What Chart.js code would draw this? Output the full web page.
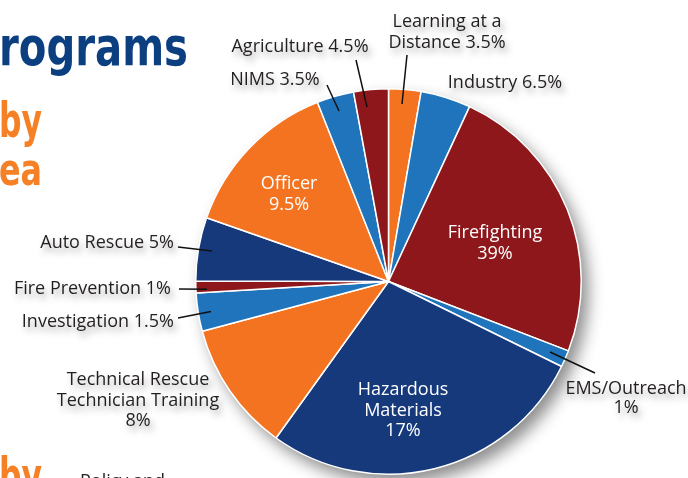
<!DOCTYPE html>
<html><head><meta charset="utf-8">
<script src="https://cdn.jsdelivr.net/npm/chart.js@4.4.1/dist/chart.umd.min.js"></script>
<style>html,body{margin:0;padding:0;background:#fff;overflow:hidden}#wrap{width:688px;height:478px;position:relative}</style>
</head><body><div id="wrap"><canvas id="c" width="688" height="478"></canvas></div>
<script>
// Categories, clockwise from 12 o'clock
const categories = ['Learning at a Distance','Industry','Firefighting','EMS/Outreach','Hazardous Materials','Technical Rescue Technician Training','Investigation','Fire Prevention','Auto Rescue','Officer','NIMS','Agriculture'];
// Percentages printed on the labels
const printedPercent = ['3.5%','6.5%','39%','1%','17%','8%','1.5%','1%','5%','9.5%','3.5%','4.5%'];
// Share of the circle each slice occupies as drawn in the picture (%)
const drawnShare = [2.7,4.2,23.9,1.4,27.6,10.9,3.2,1.0,5.3,13.6,3.1,2.9];

const ORANGE='#f37321', BLUE='#1f74bc', RED='#8e171b', NAVY='#16397c';
const sliceColors=[ORANGE,BLUE,RED,BLUE,NAVY,ORANGE,BLUE,RED,NAVY,ORANGE,BLUE,RED];

const INK='#231f20';
// label layout (text placement + leader lines), index matches categories
const labelLayout = [
  {lines:['Learning at a','Distance '+printedPercent[0]], x:447, y:22, lh:21, align:'center', color:INK, leader:[407,55,402,104]},
  {lines:['Industry '+printedPercent[1]], x:505, y:83, align:'center', color:INK},
  {lines:['Firefighting',printedPercent[2]], x:495, y:233, lh:21, align:'center', color:'#fff', inside:true},
  {lines:['EMS/Outreach',printedPercent[3]], x:626, y:389, lh:19, align:'center', color:INK, leader:[550,352,595,373]},
  {lines:['Hazardous','Materials',printedPercent[4]], x:403, y:390, lh:20.5, align:'center', color:'#fff', inside:true},
  {lines:['Technical Rescue','Technician Training',printedPercent[5]], x:138, y:380, lh:20.5, align:'center', color:INK},
  {lines:['Investigation '+printedPercent[6]], x:174, y:322, align:'right', color:INK, leader:[178,318,211,311.5]},
  {lines:['Fire Prevention '+printedPercent[7]], x:171, y:289, align:'right', color:INK, leader:[179,289,207,289.3]},
  {lines:['Auto Rescue '+printedPercent[8]], x:174, y:243, align:'right', color:INK, leader:[178,247,212,251]},
  {lines:['Officer',printedPercent[9]], x:289, y:184, lh:21, align:'center', color:'#fff', inside:true},
  {lines:['NIMS '+printedPercent[10]], x:275, y:80, align:'center', color:INK, leader:[327,85,339,111]},
  {lines:['Agriculture '+printedPercent[11]], x:300, y:47, align:'center', color:INK, leader:[356,60,367,107]}
];
const LABEL_FONT = '18px "Open Sans", "Noto Sans", sans-serif';

const pageText = {
  id:'pageText',
  beforeDraw(chart){
    const ctx=chart.ctx;
    ctx.save();
    ctx.textBaseline='alphabetic';
    const fit=(txt,x,base,w,font,color)=>{
      ctx.font=font; const m=ctx.measureText(txt).width;
      ctx.save(); ctx.translate(x,base); ctx.scale(w/m,1); ctx.fillStyle=color; ctx.textAlign='left'; ctx.fillText(txt,0,0); ctx.restore();
    };
    const HF='"Liberation Sans Narrow", "DejaVu Sans Condensed", sans-serif';
    fit('rograms',-1,65,189,'bold 54px '+HF,'#0b3f80');
    fit('by',-1,137,43,'bold 48px '+HF,'#f58025');
    fit('ea',-1,185,43,'bold 45px '+HF,'#f58025');
    fit('by',-1,492,43,'bold 48px '+HF,'#f58025');
    ctx.font=LABEL_FONT; ctx.fillStyle=INK; ctx.textAlign='left';
    ctx.fillText('Policy and',80,487);
    ctx.restore();
  }
};

const pieShadow = {
  id:'pieShadow',
  beforeDatasetsDraw(chart){
    const a=chart.getDatasetMeta(0).data[0]; if(!a) return;
    const ctx=chart.ctx; ctx.save();
    ctx.shadowColor='rgba(0,0,0,0.45)'; ctx.shadowBlur=16; ctx.shadowOffsetX=7; ctx.shadowOffsetY=9;
    ctx.beginPath(); ctx.arc(a.x,a.y,a.outerRadius,0,Math.PI*2); ctx.fillStyle='#fff'; ctx.fill();
    ctx.restore();
  }
};

const pieLabels = {
  id:'pieLabels',
  afterDatasetsDraw(chart){
    const ctx=chart.ctx; ctx.save();
    ctx.strokeStyle='#111'; ctx.lineWidth=1.5;
    labelLayout.forEach(l=>{ if(l.leader){ const [x1,y1,x2,y2]=l.leader; ctx.beginPath(); ctx.moveTo(x1,y1); ctx.lineTo(x2,y2); ctx.stroke(); }});
    ctx.font=LABEL_FONT; ctx.textBaseline='middle';
    labelLayout.forEach(l=>{
      ctx.save();
      if(!l.inside){ ctx.shadowColor='rgba(0,0,0,0.35)'; ctx.shadowBlur=7; ctx.shadowOffsetX=3; ctx.shadowOffsetY=5; }
      ctx.fillStyle=l.color; ctx.textAlign=l.align;
      l.lines.forEach((t,i)=>ctx.fillText(t,l.x,l.y+i*(l.lh||20)));
      ctx.restore();
    });
    ctx.restore();
  }
};

new Chart(document.getElementById('c'),{
  type:'pie',
  data:{labels:categories,datasets:[{data:drawnShare,backgroundColor:sliceColors,borderColor:'#fff',borderWidth:1.5}]},
  options:{
    responsive:false, animation:false, devicePixelRatio:1,
    layout:{padding:{left:195,right:106,top:88,bottom:3}},
    plugins:{legend:{display:false},tooltip:{enabled:false}}
  },
  plugins:[pageText,pieShadow,pieLabels]
});
</script></body></html>
